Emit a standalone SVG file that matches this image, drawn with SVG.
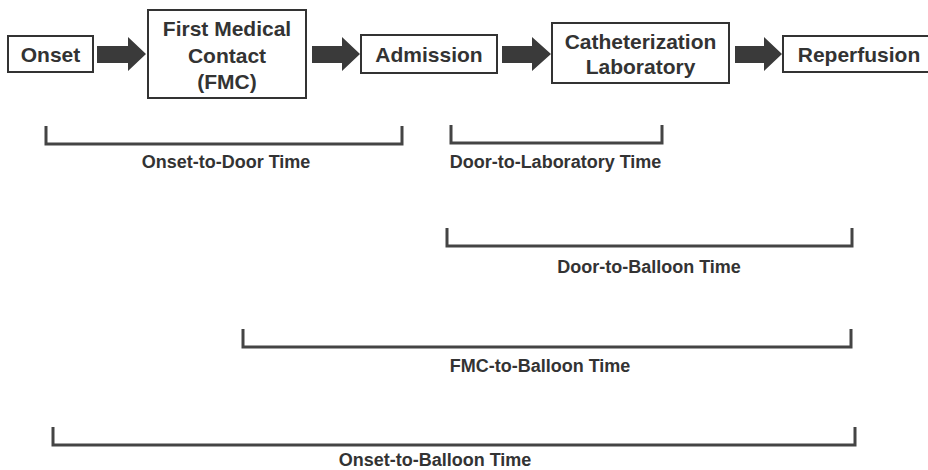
<svg xmlns="http://www.w3.org/2000/svg" width="928" height="470" viewBox="0 0 928 470">
<style>
  .box { fill: #ffffff; stroke: #333333; stroke-width: 2; }
  .nt { font-family: "Liberation Sans", Arial, sans-serif; font-weight: bold; font-size: 21px; fill: #333333; text-anchor: middle; }
  .lt { font-family: "Liberation Sans", Arial, sans-serif; font-weight: bold; font-size: 18px; fill: #333333; text-anchor: middle; }
  .arrow { fill: #3a3a3a; }
  .br { fill: none; stroke: #444444; stroke-width: 3; }
</style>
<rect x="0" y="0" width="928" height="470" fill="#ffffff"/>
<g id="onset">
  <rect class="box" x="8" y="36" width="85" height="36"/>
  <text class="nt" x="50.5" y="62">Onset</text>
</g>
<g id="fmc">
  <rect class="box" x="148" y="10" width="158" height="88"/>
  <text class="nt" x="227" y="36">First Medical</text>
  <text class="nt" x="227" y="63">Contact</text>
  <text class="nt" x="227" y="89">(FMC)</text>
</g>
<g id="admission">
  <rect class="box" x="361" y="35" width="136" height="38"/>
  <text class="nt" x="429" y="62">Admission</text>
</g>
<g id="cathlab">
  <rect class="box" x="552" y="23" width="177" height="60"/>
  <text class="nt" x="640.5" y="49">Catheterization</text>
  <text class="nt" x="640.5" y="74">Laboratory</text>
</g>
<g id="reperfusion">
  <rect class="box" x="783" y="36" width="160" height="36"/>
  <text class="nt" x="859" y="62">Reperfusion</text>
</g>
<g id="connectors">
  <polygon class="arrow" points="97,46 128,46 128,37 146,54 128,71 128,63 97,63"/>
  <polygon class="arrow" points="312,46 342,46 342,37 360,54 342,71 342,63 312,63"/>
  <polygon class="arrow" points="502,46 532,46 532,37 551,54 532,71 532,63 502,63"/>
  <polygon class="arrow" points="735,46 764,46 764,37 782,54 764,71 764,63 735,63"/>
</g>
<g id="onset-to-door">
  <polyline class="br" points="46,126 46,144 402,144 402,126"/>
  <text class="lt" x="226" y="168">Onset-to-Door Time</text>
</g>
<g id="door-to-lab">
  <polyline class="br" points="451,125 451,143 662,143 662,125"/>
  <text class="lt" x="555.5" y="168">Door-to-Laboratory Time</text>
</g>
<g id="door-to-balloon">
  <polyline class="br" points="447,228 447,246 852,246 852,228"/>
  <text class="lt" x="649" y="273">Door-to-Balloon Time</text>
</g>
<g id="fmc-to-balloon">
  <polyline class="br" points="243,329 243,347 851,347 851,329"/>
  <text class="lt" x="540" y="372">FMC-to-Balloon Time</text>
</g>
<g id="onset-to-balloon">
  <polyline class="br" points="53,427 53,445 855,445 855,427"/>
  <text class="lt" x="435" y="466">Onset-to-Balloon Time</text>
</g>
</svg>
